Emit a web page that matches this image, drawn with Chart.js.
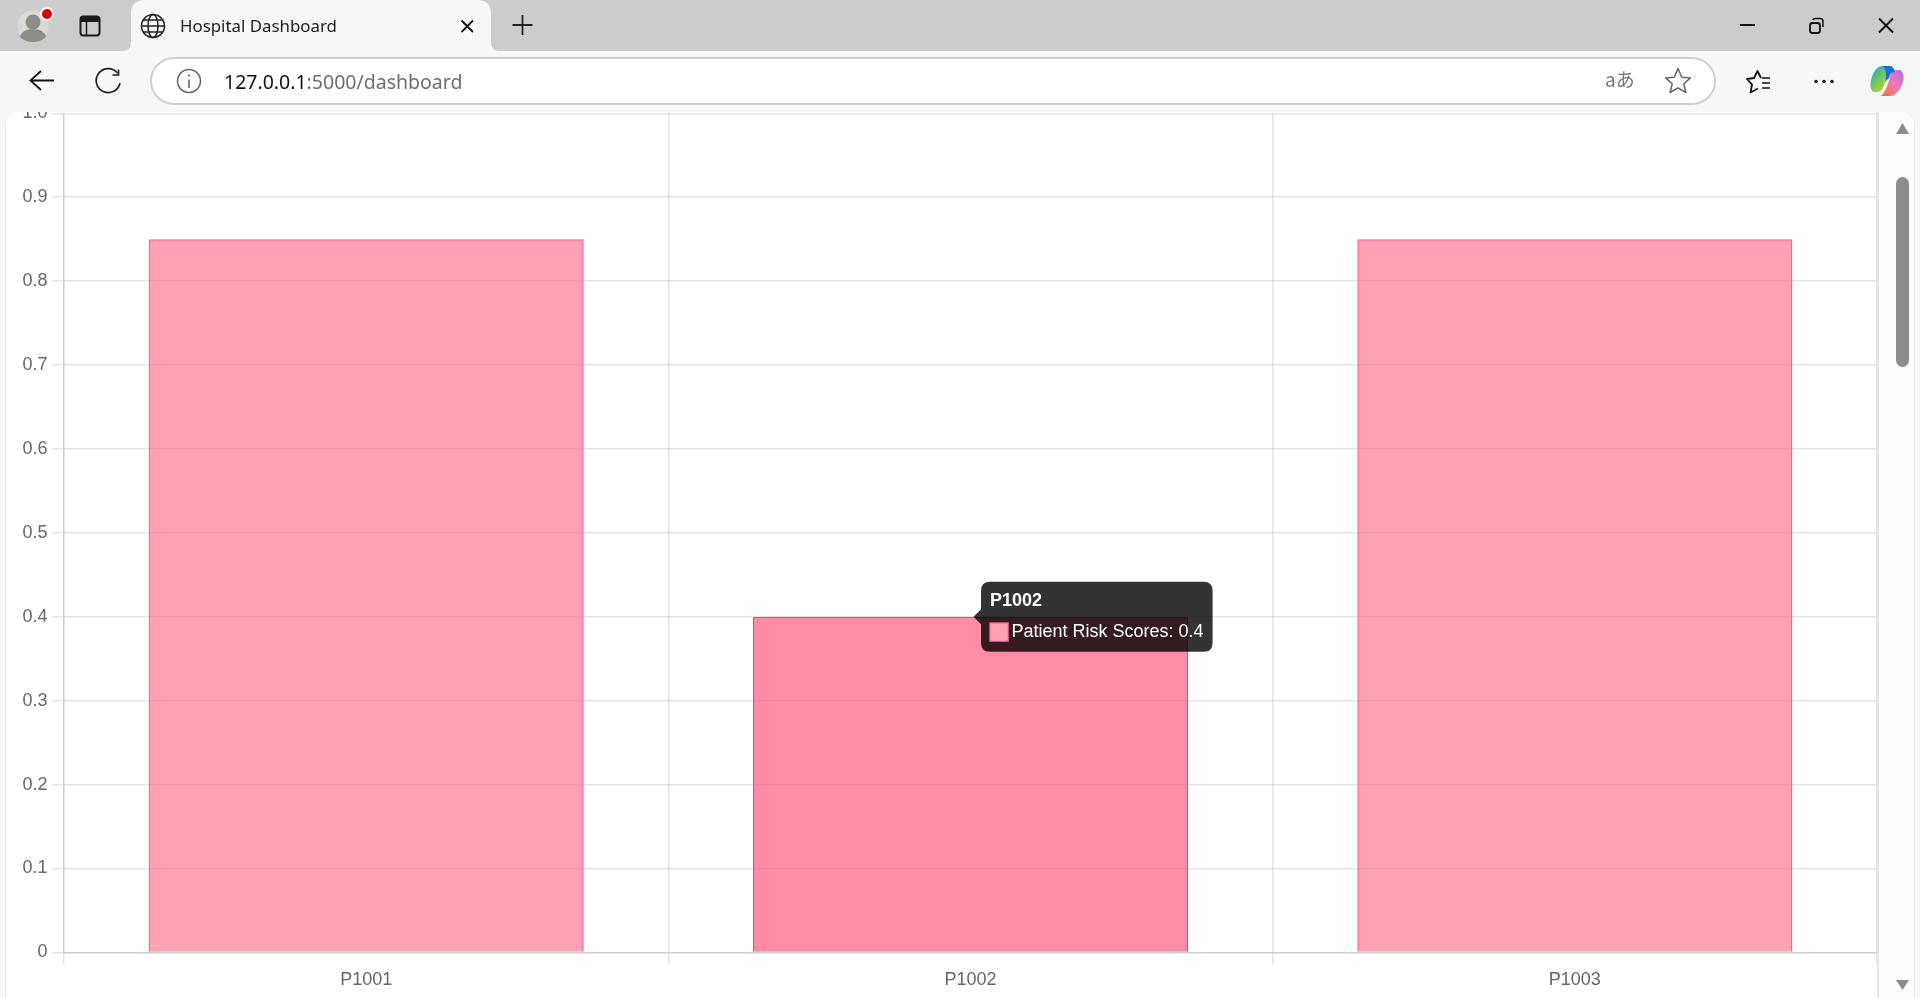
<!DOCTYPE html>
<html>
<head>
<meta charset="utf-8">
<title>Hospital Dashboard</title>
<script src="https://cdn.jsdelivr.net/npm/chart.js@4.4.0/dist/chart.umd.min.js"></script>
<style>
html,body{margin:0;padding:0;width:1920px;height:998px;overflow:hidden;background:#f7f7f7;}
#pane{position:absolute;left:6px;top:111px;width:1908px;height:900px;background:#fff;border-radius:14px;box-shadow:0 0 0 1px #ececec;}
#track{position:absolute;left:1877px;top:111px;width:37px;height:887px;background:#fdfdfd;border-radius:0 14px 0 0;border-left:2px solid #e6e6e6;box-sizing:border-box;}
#thumb{position:absolute;left:1896px;top:177px;width:13px;height:190px;background:#8c8c8c;border-radius:7px;}
#chart{position:absolute;left:18px;top:98px;}
#chrome{position:absolute;left:0;top:0;}
</style>
</head>
<body>
<div id="pane"></div>
<div id="track"></div>
<div id="thumb"></div>
<canvas id="chart" width="1859" height="897"></canvas>
<svg id="chrome" width="1920" height="998" viewBox="0 0 1920 998" font-family="'Noto Sans', sans-serif">
  <!-- top bars -->
  <path d="M0 111H6V125Q6 112 20 112H1900Q1914 112 1914 125V111H1920V0H0Z" fill="#f7f7f7" fill-rule="evenodd"/>
  <rect x="0" y="0" width="1920" height="51" fill="#cccccc"/>
  <path d="M122 51Q131 51 131 42V14Q131 0 145 0H477Q491 0 491 14V42Q491 51 500 51Z" fill="#f7f7f7"/>
  <!-- avatar -->
  <circle cx="33" cy="26" r="16" fill="#dcdad7" stroke="#cfcdc9"/>
  <circle cx="33" cy="22" r="7.5" fill="#8f8b86"/>
  <path d="M20 37Q22 29 33 29Q44 29 46 37Q41 42 33 42Q25 42 20 37Z" fill="#8f8b86"/>
  <circle cx="47" cy="14" r="6" fill="#e30000" stroke="#fff" stroke-width="2"/>
  <!-- tab layout icon -->
  <rect x="80.5" y="16.5" width="19" height="19" rx="3" fill="none" stroke="#1a1a1a" stroke-width="2"/>
  <path d="M80.5 19.5Q80.5 16.5 83.5 16.5H96.5Q99.5 16.5 99.5 19.5V22H80.5Z" fill="#1a1a1a"/>
  <path d="M86.5 22V35" stroke="#1a1a1a" stroke-width="1.5"/>
  <!-- globe -->
  <g fill="none" stroke="#222" stroke-width="1.5">
    <circle cx="153" cy="26" r="11.5"/>
    <ellipse cx="153" cy="26" rx="5" ry="11.5"/>
    <path d="M141.5 26H164.5M143 20H163M143 32H163"/>
  </g>
  <text x="180" y="32" font-size="16.85" fill="#1a1a1a">Hospital Dashboard</text>
  <path d="M461.5 20.5L473 32M473 20.5L461.5 32" stroke="#111" stroke-width="1.8"/>
  <path d="M522.5 15V35M512.5 25H532.5" stroke="#222" stroke-width="1.8"/>
  <!-- window buttons -->
  <path d="M1740 25H1755" stroke="#111" stroke-width="2"/>
  <rect x="1810" y="23" width="10" height="10" rx="2.5" fill="none" stroke="#111" stroke-width="1.8"/>
  <path d="M1813 20Q1813 18.5 1816 18.5H1820Q1823 18.5 1823 21.5V27" fill="none" stroke="#111" stroke-width="1.5"/>
  <path d="M1879 18.5L1893 32.5M1893 18.5L1879 32.5" stroke="#111" stroke-width="2"/>
  <!-- navigation -->
  <path d="M54 80.5H31M41 71L30.5 80.5L41 90" fill="none" stroke="#111" stroke-width="1.8"/>
  <path d="M117.5 73A12 12 0 1 0 120 83" fill="none" stroke="#222" stroke-width="1.7"/>
  <path d="M118.5 69.5V75H112.5" fill="none" stroke="#222" stroke-width="1.7"/>
  <!-- address bar -->
  <rect x="151" y="58" width="1564" height="46" rx="23" fill="#fff" stroke="#cfcfcf" stroke-width="2"/>
  <circle cx="189" cy="81" r="11.5" fill="none" stroke="#666" stroke-width="1.5"/>
  <path d="M189 79.5V88" stroke="#666" stroke-width="1.6"/>
  <circle cx="189" cy="75.5" r="1.1" fill="#666"/>
  <text x="224" y="89" font-size="19.5"><tspan fill="#111">127.0.0.1</tspan><tspan fill="#6e6e6e">:5000/dashboard</tspan></text>
  <text x="1605" y="87" font-size="19" fill="#777" font-family="'Noto Sans CJK JP','Noto Sans',sans-serif">aあ</text>
  <path d="M1678 68.5L1681.7 77.2L1690.5 77.9L1683.8 83.8L1685.9 92.5L1678 87.8L1670.1 92.5L1672.2 83.8L1665.5 77.9L1674.3 77.2Z" fill="none" stroke="#666" stroke-width="1.5" stroke-linejoin="round"/>
  <!-- favorites, more, copilot -->
  <path d="M1761 78L1757.5 71L1754 78L1747 79L1752 84.5L1750.5 92.5L1758 88.5" fill="none" stroke="#111" stroke-width="1.8" stroke-linejoin="round"/>
  <path d="M1762 78H1770M1762 83H1770M1762 88H1770" stroke="#111" stroke-width="1.7"/>
  <circle cx="1816" cy="81.5" r="1.8" fill="#222"/><circle cx="1824" cy="81.5" r="1.8" fill="#222"/><circle cx="1832" cy="81.5" r="1.8" fill="#222"/>
  <defs>
    <linearGradient id="cpA" x1="0" y1="0" x2="1" y2="1">
      <stop offset="0" stop-color="#1a9be6"/><stop offset="0.5" stop-color="#7ad04f"/><stop offset="1" stop-color="#f6c21c"/>
    </linearGradient>
    <linearGradient id="cpB" x1="1" y1="0" x2="0" y2="1">
      <stop offset="0" stop-color="#b66cf0"/><stop offset="0.5" stop-color="#f27ab0"/><stop offset="1" stop-color="#f7683a"/>
    </linearGradient>
  </defs>
  <path d="M1882 66H1893Q1888 70 1885 82Q1883 91 1878 92H1874Q1869 90 1871 80Q1874 67 1882 66Z" fill="url(#cpA)"/>
  <path d="M1890 96H1881Q1886 92 1889 80Q1891 71 1896 70H1900Q1905 72 1903 82Q1899 95 1890 96Z" fill="url(#cpB)"/>
  <path d="M1882 66H1890Q1894 67 1895 72Q1890 72 1889 78L1885 82Q1888 70 1882 66Z" fill="#1d6fe0"/>
  <!-- scrollbar arrows -->
  <path d="M1896 134L1902.5 123L1909 134Z" fill="#8c8c8c"/>
  <path d="M1896 980L1902.5 990L1909 980Z" fill="#8c8c8c"/>
</svg>
<script>
const categories = ['P1001', 'P1002', 'P1003'];
const riskScores = [0.85, 0.4, 0.85];
const seriesLabel = 'Patient Risk Scores';
const activeIndex = 1;

// screenshot was taken at 150% scale, so everything is 1.5x the library default
const fontFamily = "'Liberation Sans', Arial, sans-serif";
const tickFont = { family: fontFamily, size: 18 };

const chart = new Chart(document.getElementById('chart').getContext('2d'), {
  type: 'bar',
  data: {
    labels: categories,
    datasets: [{
      label: seriesLabel,
      data: riskScores,
      backgroundColor: 'rgba(255, 99, 132, 0.6)',
      borderColor: 'rgba(255, 99, 132, 1)',
      borderWidth: 1.5
    }]
  },
  options: {
    responsive: false,
    animation: false,
    devicePixelRatio: 1,
    events: [],
    scales: {
      x: {
        grid: { lineWidth: 1.5, tickLength: 12 },
        border: { width: 1.5 },
        ticks: { font: tickFont, padding: 4.5 }
      },
      y: {
        min: 0,
        max: 1,
        grid: { lineWidth: 1.5, tickLength: 12 },
        border: { width: 1.5 },
        ticks: { font: tickFont, padding: 4.5, stepSize: 0.1 }
      }
    },
    plugins: {
      legend: { display: false },
      tooltip: {
        animation: false,
        xAlign: 'left',
        yAlign: 'center',
        padding: 9,
        caretSize: 7.5,
        caretPadding: 3,
        cornerRadius: 9,
        boxWidth: 18,
        boxHeight: 18,
        boxPadding: 1.5,
        titleMarginBottom: 9,
        titleFont: { family: fontFamily, size: 18, weight: 'bold' },
        bodyFont: { family: fontFamily, size: 18 }
      }
    }
  }
});

const active = [{ datasetIndex: 0, index: activeIndex }];
chart.setActiveElements(active);
chart.tooltip.setActiveElements(active, { x: 0, y: 0 });
chart.update();
</script>
</body>
</html>
